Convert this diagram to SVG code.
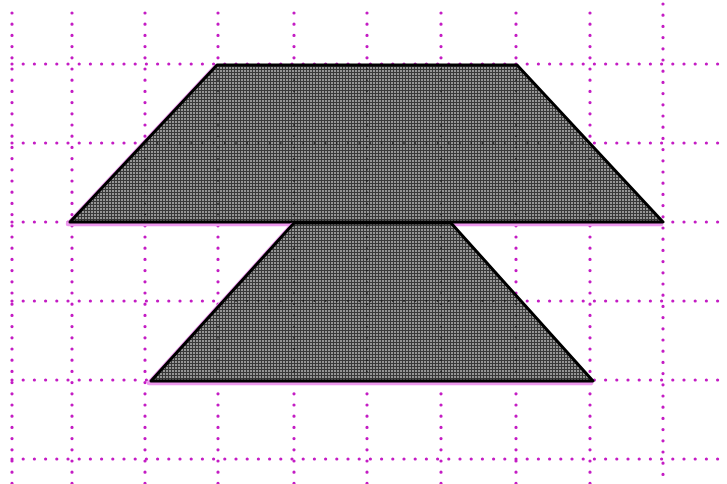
<svg xmlns="http://www.w3.org/2000/svg" width="727" height="484" viewBox="0 0 727 484">
<style>
.g{stroke:#c41cc4;stroke-width:3.2;stroke-linecap:round;stroke-dasharray:0 11.2;fill:none}
.gi{stroke:#111;stroke-width:1.8;stroke-linecap:round;stroke-dasharray:0 11.2;fill:none;opacity:0.75}
.glow{fill:none;stroke:#ee99ee;stroke-width:4.5;stroke-linejoin:round}
.edge{stroke:#000;stroke-width:3;stroke-linejoin:round}
</style>
<defs>
<pattern id="tex" width="3" height="3" patternUnits="userSpaceOnUse">
<rect width="3" height="3" fill="#959595"/>
<rect width="3" height="1" fill="#383838"/>
<rect width="1" height="3" fill="#383838"/>
</pattern>
<clipPath id="shapes">
<polygon points="217,65 517,65 663,222 70,222"/>
<polygon points="294,223 451,223 593,381 151,381"/>
</clipPath>
</defs>
<rect width="727" height="484" fill="#fff"/>
<g id="grid">
<path class="g" d="M12 13V484M72 13V484M145 13V484M218 13V484M294 13V484M367 13V484M441 13V484M516 13V484M590 13V484M663 4V484"/>
<path class="g" d="M12 64H727M12 143H727M12 222H727M12 301H727M12 380H727M12 459H727"/>
</g>
<g id="top-trapezoid">
<polygon class="glow" points="216,66 516,66 662,223 69,223" transform="translate(-1,1)"/>
<polygon class="edge" fill="url(#tex)" points="217,65 517,65 663,222 70,222"/>
</g>
<g id="bottom-trapezoid">
<polygon class="glow" points="293,224 450,224 592,382 150,382" transform="translate(-1,1)"/>
<polygon class="edge" fill="url(#tex)" points="294,223 451,223 593,381 151,381"/>
</g>
<g id="grid-inside" clip-path="url(#shapes)">
<path class="gi" d="M72 13V484M145 13V484M218 13V484M294 13V484M367 13V484M441 13V484M516 13V484M590 13V484"/>
<path class="gi" d="M12 143H727M12 301H727"/>
</g>
</svg>
